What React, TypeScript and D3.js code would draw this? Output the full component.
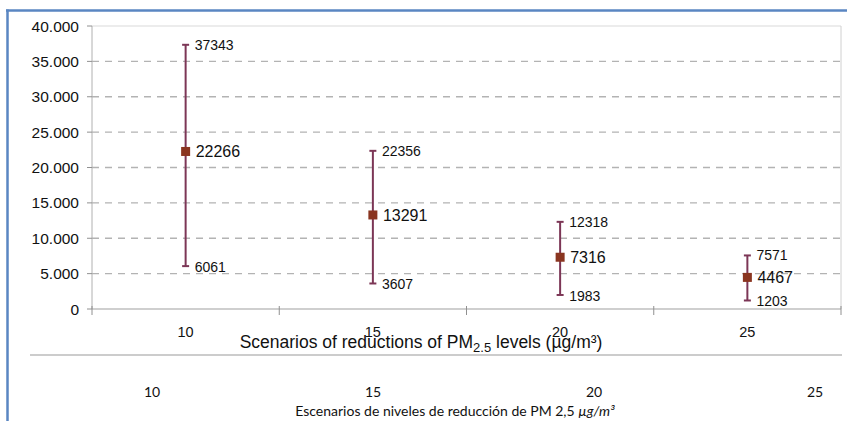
import React from "react";
import * as d3 from "d3";

const categories = ["10", "15", "20", "25"];
const meanValues = [22266, 13291, 7316, 4467];
const lowValues = [6061, 3607, 1983, 1203];
const highValues = [37343, 22356, 12318, 7571];
const yTicks = [0, 5000, 10000, 15000, 20000, 25000, 30000, 35000, 40000];
const xTitle = "Scenarios of reductions of PM";
const xTitleSub = "2.5";
const xTitleEnd = " levels (µg/m³)";
const esTitle = "Escenarios de niveles de reducción de PM 2,5 ";
const esTitleUnit = "µg/m³";

const W = 847;
const H = 421;
const LEFT = 92;
const RIGHT = 841;
const TOP = 26;
const BOTTOM = 309;

const locale = d3.formatLocale({ decimal: ",", thousands: ".", grouping: [3], currency: ["", ""] });
const fmt = locale.format(",");

export default function App() {
  const x = d3.scaleBand<string>().domain(categories).range([LEFT, RIGHT]).padding(0);
  const y = d3.scaleLinear().domain([0, 40000]).range([BOTTOM, TOP]);
  const x2 = d3.scalePoint<string>().domain(categories).range([152, 815]);
  const cx = (c: string) => (x(c) as number) + x.bandwidth() / 2;
  const font = "'Liberation Sans', Arial, sans-serif";
  const barColor = "#7c3656";
  const markColor = "#8a3520";
  const bounds = [...categories.map((c) => x(c) as number), RIGHT];

  return (
    <svg width={W} height={H} style={{ position: "absolute", left: 0, top: 0, background: "#fff" }}>
      <rect x={0} y={0} width={W} height={H} fill="#fff" />
      {/* plot frame */}
      <line x1={LEFT} x2={RIGHT} y1={TOP} y2={TOP} stroke="#d9d9d9" strokeWidth={1} />
      <line x1={RIGHT} x2={RIGHT} y1={TOP} y2={BOTTOM} stroke="#d0d0d0" strokeWidth={1} />
      {/* gridlines */}
      {yTicks.filter((t) => t > 0 && t < 40000).map((t) => (
        <line key={t} x1={LEFT} x2={RIGHT} y1={y(t)} y2={y(t)} stroke="#b3b3b3" strokeWidth={1.3} strokeDasharray="7 6" />
      ))}
      {/* y axis */}
      <line x1={LEFT} x2={LEFT} y1={TOP} y2={BOTTOM} stroke="#b0b0b0" strokeWidth={1} />
      {yTicks.map((t) => (
        <g key={t}>
          <line x1={LEFT - 5} x2={LEFT} y1={y(t)} y2={y(t)} stroke="#909090" strokeWidth={1} />
          <text x={79} y={y(t)} dy="0.36em" textAnchor="end" fontFamily={font} fontSize={15.5} fill="#111">
            {fmt(t)}
          </text>
        </g>
      ))}
      {/* x axis */}
      <line x1={LEFT} x2={RIGHT} y1={BOTTOM} y2={BOTTOM} stroke="#a0a0a0" strokeWidth={1.2} />
      {bounds.map((b, i) => (
        <line key={i} x1={b} x2={b} y1={BOTTOM - 3} y2={BOTTOM + 6} stroke="#909090" strokeWidth={1} />
      ))}
      {categories.map((c) => (
        <text key={c} x={cx(c)} y={337} textAnchor="middle" fontFamily={font} fontSize={14.5} fill="#111">
          {c}
        </text>
      ))}
      <text x={421} y={348} textAnchor="middle" fontFamily={font} fontSize={17.5} fill="#111">
        {xTitle}
        <tspan fontSize={13} dy={4}>{xTitleSub}</tspan>
        <tspan dy={-4}>{xTitleEnd}</tspan>
      </text>
      {/* error bars */}
      {categories.map((c, i) => {
        const px = cx(c);
        return (
          <g key={c}>
            <line x1={px} x2={px} y1={y(highValues[i])} y2={y(lowValues[i])} stroke={barColor} strokeWidth={2} />
            <line x1={px - 3.5} x2={px + 3.5} y1={y(highValues[i])} y2={y(highValues[i])} stroke={barColor} strokeWidth={2} />
            <line x1={px - 3.5} x2={px + 3.5} y1={y(lowValues[i])} y2={y(lowValues[i])} stroke={barColor} strokeWidth={2} />
            <rect x={px - 4.5} y={y(meanValues[i]) - 4.5} width={9} height={9} fill={markColor} />
            <text x={px + 9} y={y(highValues[i])} dy="0.36em" fontFamily={font} fontSize={14} fill="#111">
              {highValues[i]}
            </text>
            <text x={px + 10} y={y(meanValues[i])} dy="0.36em" fontFamily={font} fontSize={16} fill="#111">
              {meanValues[i]}
            </text>
            <text x={px + 9} y={y(lowValues[i])} dy="0.4em" fontFamily={font} fontSize={14} fill="#111">
              {lowValues[i]}
            </text>
          </g>
        );
      })}
      {/* separator line */}
      <line x1={30} x2={842} y1={355} y2={355} stroke="#999" strokeWidth={1.2} />
      {/* spanish labels */}
      {categories.map((c) => (
        <text key={c} x={x2(c) as number} y={397} textAnchor="middle" fontFamily="Lato, 'Noto Sans', sans-serif" fontSize={14} fill="#111">
          {c}
        </text>
      ))}
      <text x={455} y={416} textAnchor="middle" fontFamily="Lato, 'Noto Sans', sans-serif" fontSize={14} fill="#111">
        {esTitle}
        <tspan fontStyle="italic">{esTitleUnit}</tspan>
      </text>
      {/* blue frame */}
      <line x1={6} x2={W} y1={10.5} y2={10.5} stroke="#5a86c2" strokeWidth={2.5} />
      <line x1={7.5} x2={7.5} y1={9.5} y2={H} stroke="#5a86c2" strokeWidth={2.5} />
    </svg>
  );
}
